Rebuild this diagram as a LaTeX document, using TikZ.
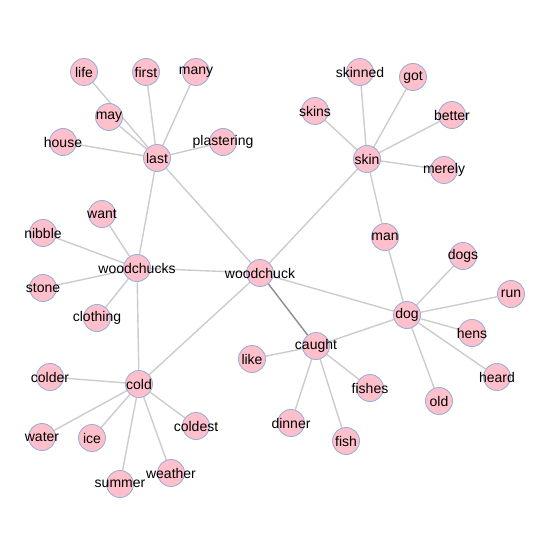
\documentclass[tikz,border=0pt]{standalone}
\usepackage{fontspec}
\setmainfont{Liberation Sans}
\usepackage{tikz}
\usetikzlibrary{backgrounds}

\definecolor{wordfill}{HTML}{FFC0CB}
\definecolor{wordline}{HTML}{9AAFDC}
\definecolor{linkgray}{HTML}{CCCCCC}
\definecolor{linkdark}{HTML}{8C8C8C}

\tikzset{
  word/.style={circle, draw=wordline, fill=wordfill, line width=0.9pt,
    minimum size=27pt, inner sep=0pt},
  link/.style={draw=linkgray, line width=1.4pt},
  strong/.style={draw=linkdark, line width=1.4pt}
}

\begin{document}
\begin{tikzpicture}[x=1pt, y=-1pt, font=\fontsize{14}{16}\selectfont]
    \useasboundingbox (0,0) rectangle (544,545);

    % Hubs
    \node[word, label=center:woodchuck] (woodchuck) at (260,273) {};
    \node[word, label=center:woodchucks] (woodchucks) at (137,268) {};
    \node[word, label=center:last] (last) at (157,158) {};
    \node[word, label=center:skin] (skin) at (367,159) {};
    \node[word, label=center:dog] (dog) at (407,315) {};
    \node[word, label=center:caught] (caught) at (316,346) {};
    \node[word, label=center:cold] (cold) at (139,384) {};

    % Around last
    \node[word, label=center:life] (life) at (84,72) {};
    \node[word, label=center:first] (first) at (146,72) {};
    \node[word, label=center:many] (many) at (196,72) {};
    \node[word, label=center:may] (may) at (109,117) {};
    \node[word, label=center:house] (house) at (63,142) {};
    \node[word, label=center:plastering] (plastering) at (223,142) {};

    % Around skin
    \node[word, label=center:skinned] (skinned) at (360,72) {};
    \node[word, label=center:got] (got) at (413,77) {};
    \node[word, label=center:skins] (skins) at (315,111) {};
    \node[word, label=center:better] (better) at (452,115) {};
    \node[word, label=center:merely] (merely) at (444,170) {};
    \node[word, label=center:man] (man) at (385,237) {};

    % Around woodchucks
    \node[word, label=center:want] (want) at (102,214) {};
    \node[word, label=center:nibble] (nibble) at (43,233) {};
    \node[word, label=center:stone] (stone) at (43,288) {};
    \node[word, label=center:clothing] (clothing) at (97,318) {};

    % Around dog
    \node[word, label=center:dogs] (dogs) at (463,256) {};
    \node[word, label=center:run] (run) at (511,294) {};
    \node[word, label=center:hens] (hens) at (472,333) {};
    \node[word, label=center:heard] (heard) at (497,377) {};
    \node[word, label=center:old] (old) at (439,401) {};

    % Around caught
    \node[word, label=center:like] (like) at (252,359) {};
    \node[word, label=center:fishes] (fishes) at (370,388) {};
    \node[word, label=center:dinner] (dinner) at (291,423) {};
    \node[word, label=center:fish] (fish) at (346,441) {};

    % Around cold
    \node[word, label=center:colder] (colder) at (50,377) {};
    \node[word, label=center:water] (water) at (42,437) {};
    \node[word, label=center:ice] (ice) at (92,438) {};
    \node[word, label=center:coldest] (coldest) at (196,426) {};
    \node[word, label=center:weather] (weather) at (171,473) {};
    \node[word, label=center:summer] (summer) at (120,484) {};

    % Links
    \begin{scope}[on background layer]
    \foreach \a/\b in {last/life, last/first, last/many, last/may, last/house,
        last/plastering, last/woodchucks, last/woodchuck,
        skin/skinned, skin/got, skin/skins, skin/better, skin/merely,
        skin/man, skin/woodchuck,
        woodchucks/want, woodchucks/nibble, woodchucks/stone,
        woodchucks/clothing, woodchucks/woodchuck, woodchucks/cold,
        woodchuck/dog, woodchuck/cold,
        dog/man, dog/dogs, dog/run, dog/hens, dog/heard, dog/old, dog/caught,
        caught/like, caught/fishes, caught/fish, caught/dinner,
        cold/colder, cold/water, cold/ice, cold/summer, cold/weather,
        cold/coldest}
      \draw[link] (\a) -- (\b);
    \draw[strong] (woodchuck) -- (caught);
    \end{scope}
\end{tikzpicture}
\end{document}
